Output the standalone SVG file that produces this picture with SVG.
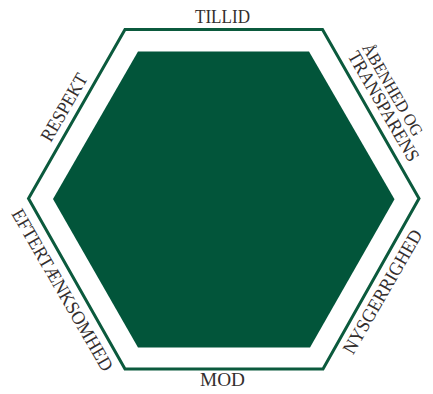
<svg xmlns="http://www.w3.org/2000/svg" width="433" height="394" viewBox="0 0 433 394">
<style>
.lbl{font-family:"Liberation Serif","Times New Roman",serif;font-size:19px;fill:#332e2e;text-anchor:middle}
.sm{font-size:17px}
</style>
<rect width="433" height="394" fill="#ffffff"/>
<g id="outer-hexagon">
<polygon points="125,29.5 322.5,29.5 419,198.5 323,369 125,369 28.5,198.5" fill="#ffffff" stroke="#0b5a3d" stroke-width="3"/>
</g>
<g id="inner-hexagon">
<polygon points="138,51.5 309,51.5 394.5,199.3 310,347.5 138,347.5 53,199" fill="#02553a"/>
</g>
<g id="connectors"></g>
<g id="label-tillid"><text class="lbl" x="222.5" y="23" textLength="55" lengthAdjust="spacingAndGlyphs">TILLID</text></g>
<g id="label-mod"><text class="lbl" x="222.5" y="386" textLength="45" lengthAdjust="spacingAndGlyphs">MOD</text></g>
<g id="label-respekt"><text class="lbl" transform="translate(69.6,110.6) rotate(-60)" textLength="75" lengthAdjust="spacingAndGlyphs">RESPEKT</text></g>
<g id="label-aabenhed"><text class="lbl sm" transform="translate(387.8,92.6) rotate(60)" textLength="104" lengthAdjust="spacingAndGlyphs">ÅBENHED OG</text><text class="lbl" transform="translate(378.2,109.4) rotate(60)" textLength="124" lengthAdjust="spacingAndGlyphs">TRANSPARENS</text></g>
<g id="label-nysgerrighed"><text class="lbl" transform="translate(387.9,294.8) rotate(-60)" textLength="140" lengthAdjust="spacingAndGlyphs">NYSGERRIGHED</text></g>
<g id="label-eftertaenksomhed"><text class="lbl" transform="translate(57,293.1) rotate(60)" textLength="184" lengthAdjust="spacingAndGlyphs">EFTERTÆNKSOMHED</text></g>
</svg>
